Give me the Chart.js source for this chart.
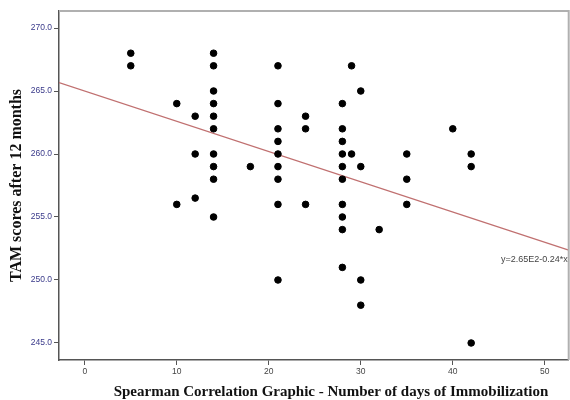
<!DOCTYPE html>
<html>
<head>
<meta charset="utf-8">
<script src="https://cdn.jsdelivr.net/npm/chart.js@4"></script>
<style>
  html, body { margin: 0; padding: 0; background: #fff; overflow: hidden; }
  #wrap { width: 573px; height: 400px; }
</style>
</head>
<body>
<div id="wrap"><canvas id="scatterChart"></canvas></div>
<script>
// dados: dias de imobilização x pontuação TAM
const days = [5, 5, 10, 10, 12, 12, 12,
  14, 14, 14, 14, 14, 14, 14, 14, 14, 14,
  18,
  21, 21, 21, 21, 21, 21, 21, 21, 21,
  24, 24, 24,
  28, 28, 28, 28, 28, 28, 28, 28, 28, 28,
  29, 29,
  30, 30, 30, 30,
  32,
  35, 35, 35,
  40,
  42, 42, 42];
const tamScores = [268, 267, 264, 256, 263, 260, 256.5,
  268, 267, 265, 264, 263, 262, 260, 259, 258, 255,
  259,
  267, 264, 262, 261, 260, 259, 258, 256, 250,
  263, 262, 256,
  264, 262, 261, 260, 259, 258, 256, 255, 254, 251,
  267, 260,
  265, 259, 250, 248,
  254,
  260, 258, 256,
  262,
  260, 259, 245];

// reta de ajuste y = 2.65E2 - 0.24*x
const fitIntercept = 265;
const fitSlope = -0.24;
const fitLabel = "y=2.65E2-0.24*x";

const xTicks = [0, 10, 20, 30, 40, 50];
const yTicks = [245, 250, 255, 260, 265, 270];
const xRange = [-2.8, 52.6];
const yRange = [243.65, 271.35];
const xTitle = "Spearman Correlation Graphic - Number of days of Immobilization";

const points = days.map((d, i) => ({ x: d, y: tamScores[i] }));
const fitLine = xRange.map(x => ({ x: x, y: fitIntercept + fitSlope * x }));

// moldura, rótulo da equação e título do eixo x
const framePlugin = {
  id: "frame",
  afterDraw(chart) {
    const { ctx, chartArea: a, scales } = chart;
    ctx.save();
    ctx.strokeStyle = "#b0b0b0";
    ctx.lineWidth = 2;
    ctx.beginPath();
    ctx.moveTo(a.left, a.top);
    ctx.lineTo(a.right, a.top);
    ctx.lineTo(a.right, a.bottom);
    ctx.stroke();

    ctx.fillStyle = "#444";
    ctx.font = "9px 'Liberation Sans', Arial, sans-serif";
    ctx.textAlign = "right";
    ctx.textBaseline = "middle";
    ctx.fillText(fitLabel, a.right - 1, scales.y.getPixelForValue(251.6));

    ctx.fillStyle = "#111";
    ctx.font = "bold 15px 'Liberation Serif', 'Times New Roman', serif";
    ctx.textAlign = "center";
    ctx.fillText(xTitle, 331, 392);
    ctx.restore();
  }
};

const ctx = document.getElementById("scatterChart").getContext("2d");
const chart = new Chart(ctx, {
  type: "scatter",
  data: {
    datasets: [
      {
        data: points,
        backgroundColor: "#000",
        borderColor: "#000",
        pointRadius: 3.3,
        pointHoverRadius: 3.3
      },
      {
        type: "line",
        data: fitLine,
        borderColor: "#c07070",
        borderWidth: 1.2,
        pointRadius: 0,
        fill: false
      }
    ]
  },
  options: {
    responsive: true,
    maintainAspectRatio: false,
    animation: false,
    layout: { padding: { top: 11, right: 0, left: 0, bottom: 0 } },
    plugins: { legend: { display: false }, tooltip: { enabled: false } },
    scales: {
      x: {
        type: "linear",
        min: xRange[0],
        max: xRange[1],
        afterBuildTicks: s => { s.ticks = xTicks.map(v => ({ value: v })); },
        afterFit: s => { s.height = 40; },
        grid: { drawOnChartArea: false, drawTicks: true, tickLength: 5, color: "#555" },
        border: { display: true, color: "#555", width: 1.5 },
        ticks: {
          color: "#444",
          font: { family: "'Liberation Sans', Arial", size: 8.5 },
          padding: 2,
          maxRotation: 0
        }
      },
      y: {
        min: yRange[0],
        max: yRange[1],
        afterBuildTicks: s => { s.ticks = yTicks.map(v => ({ value: v })); },
        afterFit: s => { s.width = 59; },
        grid: { drawOnChartArea: false, drawTicks: true, tickLength: 5, color: "#555" },
        border: { display: true, color: "#555", width: 1.5 },
        ticks: {
          color: "#3a3a8a",
          font: { family: "'Liberation Sans', Arial", size: 8.5 },
          padding: 2,
          callback: v => v.toFixed(1)
        },
        title: {
          display: true,
          text: "TAM scores after 12 months",
          color: "#111",
          font: { family: "'Liberation Serif', 'Times New Roman', serif", size: 16, weight: "bold" },
          padding: { top: 7, bottom: 0 }
        }
      }
    }
  },
  plugins: [framePlugin]
});
</script>
</body>
</html>
